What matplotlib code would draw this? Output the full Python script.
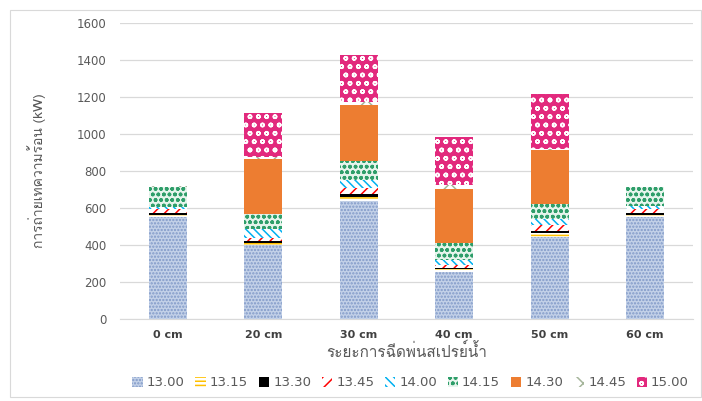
import matplotlib
matplotlib.use("Agg")
import matplotlib.pyplot as plt
from matplotlib import font_manager
from matplotlib.ft2font import FT2Font
from matplotlib.patches import Rectangle, Patch
import numpy as np

categories = ["0 cm", "20 cm", "30 cm", "40 cm", "50 cm", "60 cm"]
series_names = ["13.00", "13.15", "13.30", "13.45", "14.00", "14.15", "14.30", "14.45", "15.00"]
s1300 = [550, 400, 640, 255, 445, 550]
s1315 = [10, 12, 20, 15, 22, 12]
s1330 = [12, 12, 15, 8, 10, 12]
s1345 = [20, 15, 35, 12, 30, 18]
s1400 = [15, 45, 40, 30, 35, 18]
s1415 = [105, 85, 105, 90, 78, 105]
s1430 = [0, 295, 300, 290, 293, 0]
s1445 = [5, 10, 15, 25, 8, 0]
s1500 = [0, 240, 255, 260, 295, 0]
y_ticks = [0, 200, 400, 600, 800, 1000, 1200, 1400, 1600]
x_label = "ระยะการฉีดพ่นสเปรย์น้ำ"
y_label = "การถ่ายเทความร้อน (kW)"

series = [s1300, s1315, s1330, s1345, s1400, s1415, s1430, s1445, s1500]

# find a font with Thai glyphs
thai_font = None
for f in font_manager.fontManager.ttflist:
    try:
        ft = FT2Font(f.fname)
        cm = ft.get_charmap()
        if 0x0E01 in cm and 0x0E32 in cm:
            thai_font = f.name
            break
    except Exception:
        pass
fams = ([thai_font] if thai_font else []) + ["DejaVu Sans"]

plt.rcParams["hatch.linewidth"] = 1.1

styles = [
    dict(facecolor="#c3d1e8", edgecolor="#8099c8", hatch="....."),
    dict(facecolor="white", edgecolor="#ffc000", hatch="----"),
    dict(facecolor="black", edgecolor="black", hatch=None),
    dict(facecolor="white", edgecolor="#ff0000", hatch="///"),
    dict(facecolor="white", edgecolor="#00b0f0", hatch="\\\\\\\\"),
    dict(facecolor="#e6f4ec", edgecolor="#2f9e6a", hatch="ooo"),
    dict(facecolor="#ed7d31", edgecolor="#ed7d31", hatch=None),
    dict(facecolor="white", edgecolor="#a5b59a", hatch="x"),
    dict(facecolor="#e2297d", edgecolor="white", hatch="oo"),
]

fig = plt.figure(figsize=(7.02, 4.01), dpi=100)
ax = fig.add_axes([0.171, 0.2045, 0.816, 0.7385])

x = np.arange(len(categories))
bottom = np.zeros(len(categories))
handles = []
for name, vals, st in zip(series_names, series, styles):
    vals = np.array(vals, dtype=float)
    ax.bar(x, vals, 0.4, bottom=bottom, facecolor=st["facecolor"],
           edgecolor=st["edgecolor"], hatch=st["hatch"], linewidth=0, zorder=3)
    bottom += vals
    handles.append(Patch(facecolor=st["facecolor"], edgecolor=st["edgecolor"],
                         hatch=st["hatch"], linewidth=0, label=name))

ax.set_xlim(-0.5, len(categories) - 0.5)
ax.set_ylim(0, 1600)
ax.set_yticks(y_ticks)
ax.set_xticks(x)
ax.set_xticklabels(categories, fontweight="bold", color="#404040", fontsize=8)
ax.tick_params(axis="y", labelsize=8.5, colors="#595959", length=0, pad=10)
ax.tick_params(axis="x", length=0, pad=8)
ax.grid(axis="y", color="#d9d9d9", linewidth=0.9, zorder=0)
for s in ["top", "right", "left"]:
    ax.spines[s].set_visible(False)
ax.spines["bottom"].set_color("#d9d9d9")

ax.set_xlabel(x_label, family=fams, fontsize=11, color="#595959", labelpad=2)
ax.set_ylabel(y_label, family=fams, fontsize=10, color="#595959", labelpad=22)

leg = fig.legend(handles=handles, loc="center", bbox_to_anchor=(0.585, 0.045), ncol=9,
                 frameon=False, fontsize=9.5, handlelength=0.8, handleheight=0.8,
                 handletextpad=0.3, columnspacing=0.8)
for t in leg.get_texts():
    t.set_color("#595959")

fig.patches.append(Rectangle((0.014, 0.01), 0.984, 0.965, transform=fig.transFigure,
                             fill=False, edgecolor="#d9d9d9", linewidth=0.8))

fig.savefig("out.png", dpi=100)
